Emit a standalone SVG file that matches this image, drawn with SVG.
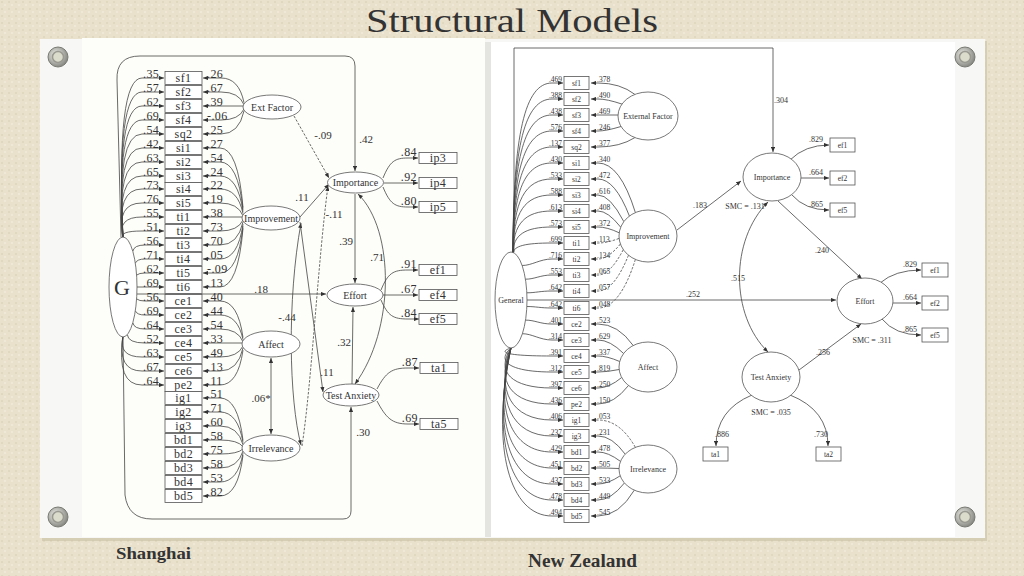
<svg xmlns="http://www.w3.org/2000/svg" width="1024" height="576" viewBox="0 0 1024 576">
<defs>
<pattern id="tex" width="7" height="7" patternUnits="userSpaceOnUse">
<rect width="7" height="7" fill="#e9e1cb"/>
<rect x="1" y="1" width="2" height="2" fill="#e1d8c0"/>
<rect x="4" y="4" width="2" height="2" fill="#efe8d6"/>
</pattern>
<radialGradient id="scr" cx="0.4" cy="0.4" r="0.6"><stop offset="0" stop-color="#f2f2ec"/><stop offset="1" stop-color="#8a8a84"/></radialGradient>
<marker id="a" viewBox="0 0 6 5" refX="6" refY="2.5" markerWidth="5" markerHeight="4.2" markerUnits="userSpaceOnUse" orient="auto-start-reverse"><path d="M0,0L6,2.5L0,5z" fill="#333"/></marker>
<style>
.l{fill:none;stroke:#444;stroke-width:.8;marker-end:url(#a)}
.d{stroke-dasharray:2.5 1.5}
.b{marker-start:url(#a)}
.n{fill:none;stroke:#444;stroke-width:.8}
.bx{fill:#fff;stroke:#555;stroke-width:.8}
.el{fill:#fff;stroke:#555;stroke-width:.8}
text{font-family:"Liberation Serif","Times New Roman",serif;fill:#333}
.s12{font-size:12px;letter-spacing:.4px}
.s11{font-size:11px}
.s10{font-size:10px}
.s8{font-size:8px}
.s7{font-size:7.5px}
.m{text-anchor:middle}
.e{text-anchor:end}
.scr1{fill:url(#scr);stroke:#7a7a74;stroke-width:1}
.scr2{fill:#dcdccc;stroke:#9a9a92;stroke-width:1.5}
</style>
</defs>
<rect width="1024" height="576" fill="url(#tex)"/>
<text x="512" y="32" class="m" font-size="34" fill="#2b2b2b" textLength="292" lengthAdjust="spacingAndGlyphs">Structural Models</text>
<rect x="42" y="41" width="945" height="500" fill="#c9c0a6" opacity="0.6"/>
<rect x="40" y="39" width="945" height="499" fill="#f7f7f5"/>
<rect x="82" y="38" width="403" height="499" fill="#fdfdf9"/>
<rect x="485" y="42" width="6" height="495" fill="#e4e4e0"/>
<rect x="491" y="42" width="464" height="495" fill="#ffffff"/>
<g id="screws">
<circle cx="58" cy="57" r="10" class="scr1"/><circle cx="58" cy="57" r="5.5" class="scr2"/>
<circle cx="965" cy="57" r="10" class="scr1"/><circle cx="965" cy="57" r="5.5" class="scr2"/>
<circle cx="58" cy="517" r="10" class="scr1"/><circle cx="58" cy="517" r="5.5" class="scr2"/>
<circle cx="965" cy="517" r="10" class="scr1"/><circle cx="965" cy="517" r="5.5" class="scr2"/>
</g>
<text x="116" y="559" font-size="17" font-weight="bold" fill="#111" textLength="75" lengthAdjust="spacingAndGlyphs">Shanghai</text>
<text x="528" y="567" font-size="18" font-weight="bold" fill="#111" textLength="109" lengthAdjust="spacingAndGlyphs">New Zealand</text>

<g id="connectors">
<path class="l" d="M123 238Q116 78 142 78L164 78"/>
<path class="l" d="M123 238Q116 92 142 92L164 92"/>
<path class="l" d="M123 238Q116 106 142 106L164 106"/>
<path class="l" d="M123 238Q116 120 142 120L164 120"/>
<path class="l" d="M123 238Q116 134 142 134L164 134"/>
<path class="l" d="M123 238Q116 148 142 148L164 148"/>
<path class="l" d="M123 238Q116 162 142 162L164 162"/>
<path class="l" d="M123 238Q116 176 142 176L164 176"/>
<path class="l" d="M123 238Q116 189 142 189L164 189"/>
<path class="l" d="M123 238Q116 203 142 203L164 203"/>
<path class="l" d="M123 238Q117 217 142 217L164 217"/>
<path class="l" d="M123 238Q119 231 142 231L164 231"/>
<path class="l" d="M132.8 251.3Q134 245 145 245L164 245"/>
<path class="l" d="M135.3 263.2Q137 259 145 259L164 259"/>
<path class="l" d="M136.6 275.1Q139 273 145 273L164 273"/>
<path class="l" d="M137 287L164 287"/>
<path class="l" d="M136.6 298.9Q139 301 145 301L164 301"/>
<path class="l" d="M135.3 310.8Q137 315 145 315L164 315"/>
<path class="l" d="M132.8 322.7Q134 329 145 329L164 329"/>
<path class="l" d="M127.3 334.6Q128 343 145 343L164 343"/>
<path class="l" d="M123 336Q118 357 142 357L164 357"/>
<path class="l" d="M123 336Q117 371 142 371L164 371"/>
<path class="l" d="M123 336Q116 385 142 385L164 385"/>
<path class="l" d="M244 102.7Q239 78 221 78L203 78"/>
<path class="l" d="M244 104.8Q239 92 221 92L203 92"/>
<path class="l" d="M243 106L203 106"/>
<path class="l" d="M244 109Q239 120 221 120L203 120"/>
<path class="l" d="M244 111Q239 134 221 134L203 134"/>
<path class="l" d="M243 207.5Q238 148 220 148L203 148"/>
<path class="l" d="M243 209.6Q238 162 220 162L203 162"/>
<path class="l" d="M243 211.7Q238 176 220 176L203 176"/>
<path class="l" d="M243 213.7Q238 189 220 189L203 189"/>
<path class="l" d="M243 215.8Q238 203 220 203L203 203"/>
<path class="l" d="M242 217L203 217"/>
<path class="l" d="M243 220Q238 231 220 231L203 231"/>
<path class="l" d="M243 222Q238 245 220 245L203 245"/>
<path class="l" d="M243 224.2Q238 259 220 259L203 259"/>
<path class="l" d="M243 226.3Q238 273 220 273L203 273"/>
<path class="l" d="M243 228.4Q238 287 220 287L203 287"/>
<path class="l" d="M243 337.6Q238 301 220 301L203 301"/>
<path class="l" d="M243 339.7Q238 315 220 315L203 315"/>
<path class="l" d="M243 341.8Q238 329 220 329L203 329"/>
<path class="l" d="M242 343L203 343"/>
<path class="l" d="M243 346Q238 357 220 357L203 357"/>
<path class="l" d="M243 348Q238 371 220 371L203 371"/>
<path class="l" d="M243 350.2Q238 385 220 385L203 385"/>
<path class="l" d="M243 440.5Q238 398 220 398L203 398"/>
<path class="l" d="M243 442.6Q238 412 220 412L203 412"/>
<path class="l" d="M243 444.7Q238 426 220 426L203 426"/>
<path class="l" d="M243 446.8Q238 440 220 440L203 440"/>
<path class="l" d="M243 448.9Q238 454 220 454L203 454"/>
<path class="l" d="M243 451Q238 468 220 468L203 468"/>
<path class="l" d="M243 453.1Q238 482 220 482L203 482"/>
<path class="l" d="M243 455.2Q238 496 220 496L203 496"/>
<path class="l" d="M121 237L117 80Q116 56 140 56L345 56Q355 56 355 66L355 171"/>
<path class="l" d="M123 337L125 495Q128 519 152 519L343 519Q351 519 351 511L351 407"/>
<path class="l" d="M137 294L326 294"/>
<path class="l d" d="M294 116L329 178"/>
<path class="l" d="M300 217L329 184"/>
<path class="l d" d="M302 446C312 380 318 260 328 186"/>
<path class="l b" d="M301 223C287 300 289 400 301 445"/>
<path class="l" d="M300 222L323 392"/>
<path class="l" d="M355 194L355 283"/>
<path class="l b" d="M358 194C395 230 395 330 355 384"/>
<path class="l" d="M352 384L353 307"/>
<path class="l b" d="M271 358L271 434"/>
<path class="l" d="M383 178C390 161 395 158 408 158L418 158"/>
<path class="l" d="M384 183L418 183"/>
<path class="l" d="M383 187C390 204 395 207 408 207L418 207"/>
<path class="l" d="M381 290C388 273 393 270 408 270L418 270"/>
<path class="l" d="M383 295L418 295"/>
<path class="l" d="M381 300C388 316 393 319 408 319L419 319"/>
<path class="l" d="M377 389C386 372 392 368 408 368L419 368"/>
<path class="l" d="M377 401C386 418 392 424 408 424L419 424"/>
<g class="s12">
<text x="143" y="77.5">.35</text><text x="143" y="91.5">.57</text><text x="143" y="105.5">.62</text><text x="143" y="119.5">.69</text><text x="143" y="133.5">.54</text><text x="143" y="147.5">.42</text><text x="143" y="161.5">.63</text><text x="143" y="175.5">.65</text><text x="143" y="188.5">.73</text><text x="143" y="202.5">.76</text><text x="143" y="216.5">.55</text><text x="143" y="230.5">.51</text><text x="143" y="244.5">.56</text><text x="143" y="258.5">.71</text><text x="143" y="272.5">.62</text><text x="143" y="286.5">.69</text><text x="143" y="300.5">.56</text><text x="143" y="314.5">.69</text><text x="143" y="328.5">.64</text><text x="143" y="342.5">.52</text><text x="143" y="356.5">.63</text><text x="143" y="370.5">.67</text><text x="143" y="384.5">.64</text>
<text x="207" y="77.5">.26</text><text x="207" y="91.5">.67</text><text x="207" y="105.5">.39</text><text x="207" y="119.5">-.06</text><text x="207" y="133.5">.25</text><text x="207" y="147.5">.27</text><text x="207" y="161.5">.54</text><text x="207" y="175.5">.24</text><text x="207" y="188.5">.22</text><text x="207" y="202.5">.19</text><text x="207" y="216.5">.38</text><text x="207" y="230.5">.73</text><text x="207" y="244.5">.70</text><text x="207" y="258.5">.05</text><text x="207" y="272.5">-.09</text><text x="207" y="286.5">.13</text><text x="207" y="300.5">.40</text><text x="207" y="314.5">.44</text><text x="207" y="328.5">.54</text><text x="207" y="342.5">.33</text><text x="207" y="356.5">.49</text><text x="207" y="370.5">.13</text><text x="207" y="384.5">.11</text><text x="207" y="397.5">.51</text><text x="207" y="411.5">.71</text><text x="207" y="425.5">.60</text><text x="207" y="439.5">.58</text><text x="207" y="453.5">.75</text><text x="207" y="467.5">.58</text><text x="207" y="481.5">.53</text><text x="207" y="495.5">.82</text>
<text x="417" y="156" class="e">.84</text><text x="417" y="181" class="e">.92</text><text x="417" y="205" class="e">.80</text>
<text x="417" y="268" class="e">.91</text><text x="417" y="293" class="e">.67</text><text x="417" y="317" class="e">.84</text>
<text x="418" y="366" class="e">.87</text><text x="418" y="422" class="e">.69</text>
</g>
<g class="s11">
<text x="323" y="139" class="m">-.09</text>
<text x="366" y="143" class="m">.42</text>
<text x="302" y="201" class="m">.11</text>
<text x="334" y="218" class="m">-.11</text>
<text x="346" y="245" class="m">.39</text>
<text x="377" y="261" class="m">.71</text>
<text x="261" y="293" class="m">.18</text>
<text x="287" y="321" class="m">-.44</text>
<text x="344" y="346" class="m">.32</text>
<text x="327" y="376" class="m">.11</text>
<text x="261" y="402" class="m">.06*</text>
<text x="363" y="436" class="m">.30</text>
</g>
<path class="l" d="M513 253C513 134 525 83 552 83L563 83"/>
<path class="l" d="M513 253C513 145 525 99 552 99L563 99"/>
<path class="l" d="M513 253C513 156 525 115 552 115L563 115"/>
<path class="l" d="M513 253C513 168 525 131 552 131L563 131"/>
<path class="l" d="M513 253C513 179 525 147 552 147L563 147"/>
<path class="l" d="M513 253C513 190 525 163 552 163L563 163"/>
<path class="l" d="M513 253C513 201 525 179 552 179L563 179"/>
<path class="l" d="M513 253C513 212 525 195 552 195L563 195"/>
<path class="l" d="M513 253C513 224 525 211 552 211L563 211"/>
<path class="l" d="M513 253C513 235 525 227 552 227L563 227"/>
<path class="l" d="M513 253C514 246 525 243 552 243L563 243"/>
<path class="l" d="M522.1 265.5C532 265.5 540 259 552 259L563 259"/>
<path class="l" d="M525.4 279.2C535 279.2 540 275 552 275L563 275"/>
<path class="l" d="M526.8 292.8C536 292.8 540 291 552 291L563 291"/>
<path class="l" d="M526.9 306.5C536 306.5 540 308 552 308L563 308"/>
<path class="l" d="M525.5 320.1C535 320.1 540 324 552 324L563 324"/>
<path class="l" d="M522.4 333.7C532 333.7 540 340 552 340L563 340"/>
<path class="l" d="M511 348C495 353 512 356 552 356L563 356"/>
<path class="l" d="M511 348C495 362 512 372 552 372L563 372"/>
<path class="l" d="M511 348C495 372 512 388 552 388L563 388"/>
<path class="l" d="M511 348C495 382 512 404 552 404L563 404"/>
<path class="l" d="M511 348C495 391 512 420 552 420L563 420"/>
<path class="l" d="M511 348C495 401 512 436 552 436L563 436"/>
<path class="l" d="M511 348C494 410 511 452 552 452L563 452"/>
<path class="l" d="M511 348C493 420 510 468 552 468L563 468"/>
<path class="l" d="M511 348C492 430 510 484 552 484L563 484"/>
<path class="l" d="M511 348C491 439 510 500 552 500L563 500"/>
<path class="l" d="M511 348C490 449 510 516 552 516L563 516"/>
<path class="l" d="M634.9 94.4Q620 83 598 83L591 83"/>
<path class="l" d="M622 104.1Q607 99 598 99L591 99"/>
<path class="l" d="M618 115L591 115"/>
<path class="l" d="M621 126.5Q606 131 598 131L591 131"/>
<path class="l" d="M634.9 137.6Q620 147 598 147L591 147"/>
<path class="l" d="M635.4 212.6Q620 163 598 163L591 163"/>
<path class="l" d="M629.4 216Q615 179 598 179L591 179"/>
<path class="l" d="M623.8 221.6Q610 195 598 195L591 195"/>
<path class="l" d="M620.7 227.2Q608 211 598 211L591 211"/>
<path class="l" d="M619.2 232.8Q607 227 598 227L591 227"/>
<path class="l d" d="M619.1 238.4Q607 243 598 243L591 243"/>
<path class="l d" d="M620.4 244Q608 259 598 259L591 259"/>
<path class="l d" d="M623.3 249.6Q610 275 598 275L591 275"/>
<path class="l d" d="M628.5 255.2Q614 291 598 291L591 291"/>
<path class="l d" d="M635.4 259.4Q620 308 598 308L591 308"/>
<path class="l" d="M633.2 345.5Q618 324 598 324L591 324"/>
<path class="l" d="M623.6 353.5Q610 340 598 340L591 340"/>
<path class="l" d="M619.7 361.5Q607 356 598 356L591 356"/>
<path class="l" d="M619.1 369.5Q607 372 598 372L591 372"/>
<path class="l" d="M621.7 377.5Q609 388 598 388L591 388"/>
<path class="l" d="M628.5 385.5Q614 404 598 404L591 404"/>
<path class="l d" d="M635.4 447.4Q620 420 598 420L591 420"/>
<path class="l" d="M625.2 454.2Q612 436 598 436L591 436"/>
<path class="l" d="M620.5 461.4Q608 452 598 452L591 452"/>
<path class="l" d="M619 468.5Q607 468 598 468L591 468"/>
<path class="l" d="M620.2 475.8Q608 484 598 484L591 484"/>
<path class="l" d="M624.4 483Q611 500 598 500L591 500"/>
<path class="l" d="M634.3 490.2Q619 516 598 516L591 516"/>
<path class="l" d="M514 252L514 48L773 48L773 152"/>
<path class="l" d="M527 300L836 300"/>
<path class="l" d="M677 230L741 181"/>
<path class="l" d="M778 201L862 279"/>
<path class="l" d="M799 370L861 324"/>
<path class="l b" d="M768 202C730 240 730 315 768 352"/>
<path class="l" d="M790 160Q805 145 829 145"/>
<path class="l" d="M801 178L829 178"/>
<path class="l" d="M792 195Q805 210 829 210"/>
<path class="l" d="M880 283Q895 270 921 270"/>
<path class="l" d="M893 303L921 303"/>
<path class="l" d="M882 319Q895 335 921 335"/>
<path class="l" d="M752 395Q716 410 716 446"/>
<path class="l" d="M790 395Q828 410 828 446"/>
<g class="s7">
<text x="562" y="81.5" class="e">.469</text><text x="562" y="97.5" class="e">.388</text><text x="562" y="113.5" class="e">.438</text><text x="562" y="129.5" class="e">.576</text><text x="562" y="145.5" class="e">.137</text><text x="562" y="161.5" class="e">.430</text><text x="562" y="177.5" class="e">.533</text><text x="562" y="193.5" class="e">.588</text><text x="562" y="209.5" class="e">.613</text><text x="562" y="225.5" class="e">.573</text><text x="562" y="241.5" class="e">.699</text><text x="562" y="257.5" class="e">.716</text><text x="562" y="273.5" class="e">.553</text><text x="562" y="289.5" class="e">.642</text><text x="562" y="306.5" class="e">.642</text><text x="562" y="322.5" class="e">.401</text><text x="562" y="338.5" class="e">.314</text><text x="562" y="354.5" class="e">.391</text><text x="562" y="370.5" class="e">.312</text><text x="562" y="386.5" class="e">.397</text><text x="562" y="402.5" class="e">.436</text><text x="562" y="418.5" class="e">.406</text><text x="562" y="434.5" class="e">.237</text><text x="562" y="450.5" class="e">.429</text><text x="562" y="466.5" class="e">.451</text><text x="562" y="482.5" class="e">.437</text><text x="562" y="498.5" class="e">.478</text><text x="562" y="514.5" class="e">.494</text>
<text x="597" y="81.5">.378</text><text x="597" y="97.5">.490</text><text x="597" y="113.5">.469</text><text x="597" y="129.5">.246</text><text x="597" y="145.5">.377</text><text x="597" y="161.5">.340</text><text x="597" y="177.5">.472</text><text x="597" y="193.5">.616</text><text x="597" y="209.5">.408</text><text x="597" y="225.5">.372</text><text x="597" y="241.5">.113</text><text x="597" y="257.5">.134</text><text x="597" y="273.5">.065</text><text x="597" y="289.5">.057</text><text x="597" y="306.5">.048</text><text x="597" y="322.5">.523</text><text x="597" y="338.5">.629</text><text x="597" y="354.5">.337</text><text x="597" y="370.5">.819</text><text x="597" y="386.5">.250</text><text x="597" y="402.5">.150</text><text x="597" y="418.5">.053</text><text x="597" y="434.5">.231</text><text x="597" y="450.5">.478</text><text x="597" y="466.5">.505</text><text x="597" y="482.5">.533</text><text x="597" y="498.5">.449</text><text x="597" y="514.5">.545</text>
</g>
<g class="s8">
<text x="781" y="103" class="m">.304</text>
<text x="700" y="208" class="m">.183</text>
<text x="693" y="297" class="m">.252</text>
<text x="822" y="253" class="m">.240</text>
<text x="738" y="281" class="m">.515</text>
<text x="823" y="355" class="m">.256</text>
<text x="823" y="142" class="e">.829</text><text x="823" y="175" class="e">.664</text><text x="823" y="207" class="e">.865</text>
<text x="917" y="267" class="e">.829</text><text x="917" y="300" class="e">.664</text><text x="917" y="332" class="e">.865</text>
<text x="722" y="437" class="m">.886</text><text x="821" y="437" class="m">.730</text>
<text x="745" y="209" class="m">SMC = .131</text>
<text x="872" y="343" class="m">SMC = .311</text>
<text x="771" y="415" class="m">SMC = .035</text>
</g>
</g>

<g id="G"><ellipse cx="123" cy="287" rx="14" ry="50" class="el"/><text x="122" y="295" font-size="22" class="m">G</text></g>
<g id="L-ExtFactor"><ellipse cx="272" cy="107" rx="29" ry="12" class="el"/><text x="272" y="110.5" class="s10 m">Ext Factor</text></g>
<g id="L-Improvement"><ellipse cx="271" cy="218" rx="29" ry="12" class="el"/><text x="271" y="221.5" class="s10 m">Improvement</text></g>
<g id="L-Affect"><ellipse cx="271" cy="344" rx="29" ry="13" class="el"/><text x="271" y="347.5" class="s10 m">Affect</text></g>
<g id="L-Irrelevance"><ellipse cx="271" cy="448" rx="29" ry="13" class="el"/><text x="271" y="451.5" class="s10 m">Irrelevance</text></g>
<g id="L-Importance"><ellipse cx="355.5" cy="182.5" rx="28" ry="10.5" class="el"/><text x="355.5" y="186" class="s10 m">Importance</text></g>
<g id="L-Effort"><ellipse cx="355" cy="295" rx="28" ry="11" class="el"/><text x="355" y="298.5" class="s10 m">Effort</text></g>
<g id="L-TestAnxiety"><ellipse cx="351" cy="395" rx="28" ry="11" class="el"/><text x="351" y="398.5" class="s10 m">Test Anxiety</text></g>
<g id="L-items" class="s12">
<rect x="165" y="71.5" width="37" height="13" class="bx"/><text x="183.5" y="82" class="m">sf1</text>
<rect x="165" y="85.5" width="37" height="13" class="bx"/><text x="183.5" y="96" class="m">sf2</text>
<rect x="165" y="99.5" width="37" height="13" class="bx"/><text x="183.5" y="110" class="m">sf3</text>
<rect x="165" y="113.5" width="37" height="13" class="bx"/><text x="183.5" y="124" class="m">sf4</text>
<rect x="165" y="127.5" width="37" height="13" class="bx"/><text x="183.5" y="138" class="m">sq2</text>
<rect x="165" y="141.5" width="37" height="13" class="bx"/><text x="183.5" y="152" class="m">si1</text>
<rect x="165" y="155.5" width="37" height="13" class="bx"/><text x="183.5" y="166" class="m">si2</text>
<rect x="165" y="169.5" width="37" height="13" class="bx"/><text x="183.5" y="180" class="m">si3</text>
<rect x="165" y="182.5" width="37" height="13" class="bx"/><text x="183.5" y="193" class="m">si4</text>
<rect x="165" y="196.5" width="37" height="13" class="bx"/><text x="183.5" y="207" class="m">si5</text>
<rect x="165" y="210.5" width="37" height="13" class="bx"/><text x="183.5" y="221" class="m">ti1</text>
<rect x="165" y="224.5" width="37" height="13" class="bx"/><text x="183.5" y="235" class="m">ti2</text>
<rect x="165" y="238.5" width="37" height="13" class="bx"/><text x="183.5" y="249" class="m">ti3</text>
<rect x="165" y="252.5" width="37" height="13" class="bx"/><text x="183.5" y="263" class="m">ti4</text>
<rect x="165" y="266.5" width="37" height="13" class="bx"/><text x="183.5" y="277" class="m">ti5</text>
<rect x="165" y="280.5" width="37" height="13" class="bx"/><text x="183.5" y="291" class="m">ti6</text>
<rect x="165" y="294.5" width="37" height="13" class="bx"/><text x="183.5" y="305" class="m">ce1</text>
<rect x="165" y="308.5" width="37" height="13" class="bx"/><text x="183.5" y="319" class="m">ce2</text>
<rect x="165" y="322.5" width="37" height="13" class="bx"/><text x="183.5" y="333" class="m">ce3</text>
<rect x="165" y="336.5" width="37" height="13" class="bx"/><text x="183.5" y="347" class="m">ce4</text>
<rect x="165" y="350.5" width="37" height="13" class="bx"/><text x="183.5" y="361" class="m">ce5</text>
<rect x="165" y="364.5" width="37" height="13" class="bx"/><text x="183.5" y="375" class="m">ce6</text>
<rect x="165" y="378.5" width="37" height="13" class="bx"/><text x="183.5" y="389" class="m">pe2</text>
<rect x="165" y="391.5" width="37" height="13" class="bx"/><text x="183.5" y="402" class="m">ig1</text>
<rect x="165" y="405.5" width="37" height="13" class="bx"/><text x="183.5" y="416" class="m">ig2</text>
<rect x="165" y="419.5" width="37" height="13" class="bx"/><text x="183.5" y="430" class="m">ig3</text>
<rect x="165" y="433.5" width="37" height="13" class="bx"/><text x="183.5" y="444" class="m">bd1</text>
<rect x="165" y="447.5" width="37" height="13" class="bx"/><text x="183.5" y="458" class="m">bd2</text>
<rect x="165" y="461.5" width="37" height="13" class="bx"/><text x="183.5" y="472" class="m">bd3</text>
<rect x="165" y="475.5" width="37" height="13" class="bx"/><text x="183.5" y="486" class="m">bd4</text>
<rect x="165" y="489.5" width="37" height="13" class="bx"/><text x="183.5" y="500" class="m">bd5</text>
<rect x="419" y="152.5" width="38" height="11" class="bx"/><text x="438" y="162" class="m">ip3</text>
<rect x="419" y="177.5" width="38" height="11" class="bx"/><text x="438" y="187" class="m">ip4</text>
<rect x="419" y="201.5" width="38" height="11" class="bx"/><text x="438" y="211" class="m">ip5</text>
<rect x="419" y="264.5" width="38" height="11" class="bx"/><text x="438" y="274" class="m">ef1</text>
<rect x="419" y="289.5" width="38" height="11" class="bx"/><text x="438" y="299" class="m">ef4</text>
<rect x="419" y="313.5" width="38" height="11" class="bx"/><text x="438" y="323" class="m">ef5</text>
<rect x="420" y="362.5" width="38" height="11" class="bx"/><text x="439" y="372" class="m">ta1</text>
<rect x="420" y="418.5" width="38" height="11" class="bx"/><text x="439" y="428" class="m">ta5</text>
</g>

<g id="R-General"><ellipse cx="511" cy="300" rx="16" ry="48" class="el"/><text x="511" y="303" class="s8 m">General</text></g>
<g id="R-ExternalFactor"><ellipse cx="648" cy="116" rx="30" ry="24" class="el"/><text x="648" y="119" class="s8 m">External Factor</text></g>
<g id="R-Improvement"><ellipse cx="648" cy="236" rx="29" ry="26" class="el"/><text x="648" y="239" class="s8 m">Improvement</text></g>
<g id="R-Affect"><ellipse cx="648" cy="367" rx="29" ry="25" class="el"/><text x="648" y="370" class="s8 m">Affect</text></g>
<g id="R-Irrelevance"><ellipse cx="648" cy="469" rx="29" ry="24" class="el"/><text x="648" y="472" class="s8 m">Irrelevance</text></g>
<g id="R-Importance"><ellipse cx="772" cy="177" rx="29" ry="24" class="el"/><text x="772" y="180" class="s8 m">Importance</text></g>
<g id="R-Effort"><ellipse cx="865" cy="301" rx="28" ry="23" class="el"/><text x="865" y="304" class="s8 m">Effort</text></g>
<g id="R-TestAnxiety"><ellipse cx="771" cy="377" rx="29" ry="25" class="el"/><text x="771" y="380" class="s8 m">Test Anxiety</text></g>
<g id="R-items" class="s7">
<rect x="564" y="76.5" width="25" height="13" class="bx"/><text x="576.5" y="85.5" class="m">sf1</text>
<rect x="564" y="92.5" width="25" height="13" class="bx"/><text x="576.5" y="101.5" class="m">sf2</text>
<rect x="564" y="108.5" width="25" height="13" class="bx"/><text x="576.5" y="117.5" class="m">sf3</text>
<rect x="564" y="124.5" width="25" height="13" class="bx"/><text x="576.5" y="133.5" class="m">sf4</text>
<rect x="564" y="140.5" width="25" height="13" class="bx"/><text x="576.5" y="149.5" class="m">sq2</text>
<rect x="564" y="156.5" width="25" height="13" class="bx"/><text x="576.5" y="165.5" class="m">si1</text>
<rect x="564" y="172.5" width="25" height="13" class="bx"/><text x="576.5" y="181.5" class="m">si2</text>
<rect x="564" y="188.5" width="25" height="13" class="bx"/><text x="576.5" y="197.5" class="m">si3</text>
<rect x="564" y="204.5" width="25" height="13" class="bx"/><text x="576.5" y="213.5" class="m">si4</text>
<rect x="564" y="220.5" width="25" height="13" class="bx"/><text x="576.5" y="229.5" class="m">si5</text>
<rect x="564" y="236.5" width="25" height="13" class="bx"/><text x="576.5" y="245.5" class="m">ti1</text>
<rect x="564" y="252.5" width="25" height="13" class="bx"/><text x="576.5" y="261.5" class="m">ti2</text>
<rect x="564" y="268.5" width="25" height="13" class="bx"/><text x="576.5" y="277.5" class="m">ti3</text>
<rect x="564" y="284.5" width="25" height="13" class="bx"/><text x="576.5" y="293.5" class="m">ti4</text>
<rect x="564" y="301.5" width="25" height="13" class="bx"/><text x="576.5" y="310.5" class="m">ti6</text>
<rect x="564" y="317.5" width="25" height="13" class="bx"/><text x="576.5" y="326.5" class="m">ce2</text>
<rect x="564" y="333.5" width="25" height="13" class="bx"/><text x="576.5" y="342.5" class="m">ce3</text>
<rect x="564" y="349.5" width="25" height="13" class="bx"/><text x="576.5" y="358.5" class="m">ce4</text>
<rect x="564" y="365.5" width="25" height="13" class="bx"/><text x="576.5" y="374.5" class="m">ce5</text>
<rect x="564" y="381.5" width="25" height="13" class="bx"/><text x="576.5" y="390.5" class="m">ce6</text>
<rect x="564" y="397.5" width="25" height="13" class="bx"/><text x="576.5" y="406.5" class="m">pe2</text>
<rect x="564" y="413.5" width="25" height="13" class="bx"/><text x="576.5" y="422.5" class="m">ig1</text>
<rect x="564" y="429.5" width="25" height="13" class="bx"/><text x="576.5" y="438.5" class="m">ig3</text>
<rect x="564" y="445.5" width="25" height="13" class="bx"/><text x="576.5" y="454.5" class="m">bd1</text>
<rect x="564" y="461.5" width="25" height="13" class="bx"/><text x="576.5" y="470.5" class="m">bd2</text>
<rect x="564" y="477.5" width="25" height="13" class="bx"/><text x="576.5" y="486.5" class="m">bd3</text>
<rect x="564" y="493.5" width="25" height="13" class="bx"/><text x="576.5" y="502.5" class="m">bd4</text>
<rect x="564" y="509.5" width="25" height="13" class="bx"/><text x="576.5" y="518.5" class="m">bd5</text>
<rect x="830" y="138" width="25" height="14" class="bx"/><text x="842.5" y="148" class="m">ef1</text>
<rect x="830" y="171" width="25" height="14" class="bx"/><text x="842.5" y="181" class="m">ef2</text>
<rect x="830" y="203" width="25" height="14" class="bx"/><text x="842.5" y="213" class="m">ef5</text>
<rect x="922" y="263" width="26" height="14" class="bx"/><text x="935" y="273" class="m">ef1</text>
<rect x="922" y="296" width="26" height="14" class="bx"/><text x="935" y="306" class="m">ef2</text>
<rect x="922" y="328" width="26" height="14" class="bx"/><text x="935" y="338" class="m">ef5</text>
<rect x="703" y="447" width="25" height="14" class="bx"/><text x="715.5" y="457" class="m">ta1</text>
<rect x="816" y="447" width="25" height="14" class="bx"/><text x="828.5" y="457" class="m">ta2</text>
</g>
</svg>
